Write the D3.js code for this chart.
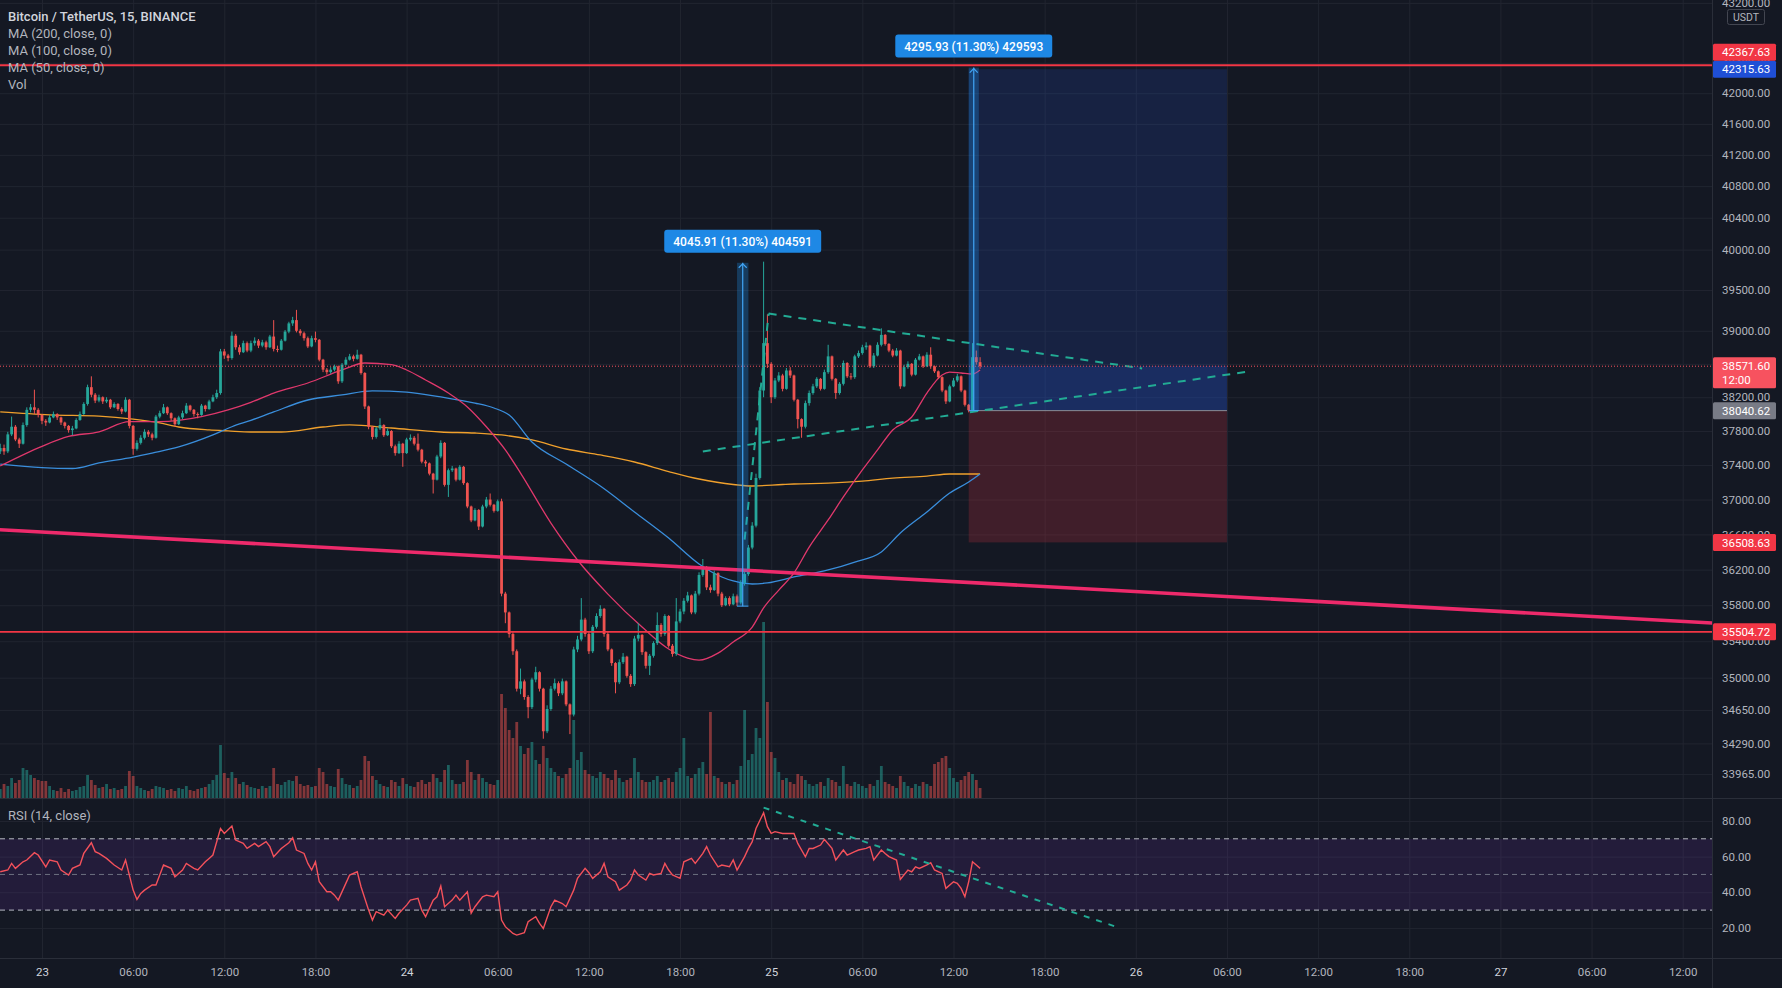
<!DOCTYPE html>
<html><head><meta charset="utf-8">
<script src="https://cdn.jsdelivr.net/npm/d3@7/dist/d3.min.js"></script>
<style>html,body{margin:0;padding:0;background:#141823;overflow:hidden}svg{display:block}</style>
</head><body><svg id="chart" width="1782" height="988"></svg>
<script>
// ---------------- DATA ----------------
const firstCandleTime = "2022-02-22T21:15:00Z";   // 15-minute candles
const firstOpen = 37560;
const closes = [
37600,37560,37760,37850,37700,37650,37870,38050,38080,38050,
37990,37920,37900,37960,38000,37960,37900,37860,37810,37830,
37930,38000,38120,38320,38230,38160,38200,38150,38170,38080,
38120,38060,38030,38170,37860,37590,37660,37720,37790,37760,
37720,37970,38010,38080,38010,37950,37880,37960,38010,38100,
38050,38000,37990,38100,38060,38150,38200,38250,38750,38700,
38670,38940,38800,38740,38850,38760,38850,38880,38820,38860,
38800,38930,38780,38770,38880,38990,39090,39130,39000,38970,
38910,38810,38910,38890,38650,38530,38500,38530,38570,38390,
38590,38650,38690,38660,38710,38490,38090,37850,37730,37830,
37870,37750,37800,37620,37540,37650,37540,37700,37720,37650,
37580,37440,37420,37300,37230,37500,37660,37170,37340,37360,
37230,37380,37190,36920,36760,36880,36690,36920,37000,36940,
36870,36980,35930,35720,35480,35290,34880,34960,34790,34680,
34980,35060,34880,34420,34660,34880,34940,34830,34960,34710,
34600,35310,35420,35640,35480,35290,35560,35680,35760,35480,
35310,35160,34950,35170,35230,35020,34930,35430,35470,35280,
35130,35240,35380,35580,35480,35680,35350,35260,35620,35730,
35850,35910,35720,35930,36140,36230,36000,35970,36160,35930,
35800,35880,35810,35900,35830,36050,36150,36450,36700,37250,
38280,38850,38600,38200,38400,38460,38300,38520,38460,38170,
37940,37850,38130,38250,38330,38420,38300,38500,38690,38420,
38250,38360,38610,38450,38440,38690,38730,38800,38820,38570,
38700,38830,38950,38840,38760,38700,38760,38330,38560,38600,
38470,38650,38690,38570,38710,38570,38510,38440,38280,38150,
38330,38400,38450,38280,38110,38045,38680,38620,38571.6];
const highs = [
37650,37640,37790,37970,37870,37720,37900,38080,38120,38290,
38070,38000,37940,37990,38030,38010,37970,37910,37870,37860,
37950,38030,38140,38350,38450,38250,38230,38210,38200,38180,
38140,38130,38080,38200,38180,37870,37690,37750,37820,37810,
37780,37990,38040,38120,38090,38020,37960,37980,38040,38130,
38110,38060,38020,38120,38110,38170,38230,38290,38780,38780,
38720,38990,38960,38830,38880,38870,38880,38920,38900,38890,
38880,38950,39130,38820,38900,39010,39110,39170,39255,39020,
38990,38930,38940,38990,38900,38660,38550,38560,38590,38580,
38610,38680,38720,38710,38770,38720,38500,38100,37860,37850,
37950,37880,37830,37810,37640,37680,37660,37720,37760,37740,
37770,37590,37460,37430,37310,37520,37690,37670,37360,37390,
37370,37400,37390,37200,36930,36900,36890,36940,37030,37070,
36950,37000,37010,35950,35730,35500,35310,35100,34980,34810,
35000,35120,35070,34890,34700,34910,34990,34960,34990,34970,
34720,35340,35460,35880,35660,35500,35580,35710,35800,35770,
35500,35320,35170,35200,35270,35240,35040,35460,35600,35480,
35290,35260,35400,35720,35600,35700,35690,35370,35880,35760,
35880,35950,35920,35960,36170,36320,36240,36030,36190,36170,
35950,35900,35900,35930,35920,36080,36200,36480,36740,37300,
38320,39850,39200,38620,38430,38500,38480,38550,38560,38470,
38180,37950,38160,38280,38360,38440,38430,38530,38830,38700,
38430,38380,38640,38620,38490,38710,38760,38830,38860,38830,
38730,38860,39030,38960,38850,38780,38790,38770,38590,38630,
38610,38670,38720,38700,38740,38800,38580,38520,38450,38290,
38350,38430,38480,38460,38290,38120,38850,38760,38680];
const lows = [
37530,37520,37540,37740,37680,37600,37640,37850,38020,38000,
37960,37880,37860,37890,37950,37930,37870,37830,37780,37750,
37820,37920,37990,38100,38200,38130,38140,38120,38130,38060,
38070,38040,38000,38020,37830,37520,37570,37640,37700,37730,
37690,37710,37950,38000,37990,37920,37850,37870,37940,38000,
38030,37970,37950,37980,38030,38050,38140,38180,38230,38660,
38630,38650,38770,38710,38730,38740,38740,38820,38790,38800,
38770,38790,38750,38740,38760,38870,38970,39060,38980,38940,
38880,38790,38800,38860,38630,38500,38470,38480,38510,38360,
38370,38580,38640,38630,38650,38470,38060,37820,37700,37710,
37810,37730,37740,37600,37510,37530,37380,37530,37680,37630,
37560,37420,37380,37280,37070,37220,37480,37150,37030,37320,
37210,37220,37170,36900,36740,36750,36650,36680,36900,36920,
36850,36860,35900,35600,35440,35250,34850,34820,34760,34560,
34660,34950,34850,34340,34400,34640,34860,34800,34810,34690,
34390,34580,35280,35400,35450,35260,35270,35540,35660,35450,
35290,35130,34830,34930,35150,35000,34900,34910,35400,35250,
35100,35030,35220,35360,35450,35460,35330,35230,35240,35600,
35700,35830,35700,35700,35910,36120,35970,35940,35960,35900,
35780,35790,35790,35800,35790,35810,36020,36130,36430,36680,
37230,38200,38550,38130,38180,38380,38270,38290,38430,38150,
37830,37720,37830,38100,38230,38310,38280,38290,38480,38400,
38180,38230,38340,38430,38410,38420,38670,38710,38770,38550,
38550,38690,38810,38820,38740,38680,38690,38300,38320,38540,
38450,38460,38640,38550,38560,38540,38490,38420,38260,38120,
38140,38320,38380,38260,38090,38020,38020,38590,38540];
const volumes = [
450,700,600,1000,750,900,1500,1400,1150,1000,
900,850,850,600,400,350,500,300,450,350,
400,550,600,1150,900,650,500,550,700,450,
500,400,450,600,1350,1100,600,500,400,350,
450,600,550,500,400,450,350,500,450,600,
400,350,450,500,550,700,900,1150,2650,1250,
1000,1300,1000,700,800,650,550,500,450,600,
500,600,1500,700,650,800,900,850,1100,700,
600,650,550,600,1500,1300,700,600,550,1450,
1000,700,650,500,600,900,2100,1850,1100,900,
700,600,550,900,800,600,1000,700,600,550,
800,900,700,800,1200,1000,800,1400,1650,900,
700,700,800,1900,1300,900,1200,1000,800,700,
650,900,5200,4500,3400,3000,3800,2600,2200,2500,
2800,1900,1700,2600,2000,1500,1300,1100,1000,1200,
1500,3900,1900,2300,1400,1200,1100,1000,1300,1200,
1000,900,1400,1000,800,900,1000,2000,1300,900,
800,800,900,1100,800,900,1000,800,1300,1500,
3000,1100,1000,1200,1500,1800,1200,4300,1100,1000,
800,700,800,700,900,1600,4400,1900,2200,3500,
3000,8800,4800,2300,2000,1300,900,1000,800,700,
1200,1100,900,700,600,700,800,600,1000,900,
800,600,1600,700,600,800,700,600,500,700,
600,900,1600,800,700,600,500,1100,800,600,
500,700,600,800,700,600,1700,1800,2000,2100,
1500,1000,800,900,1100,1300,1200,900,500];
// moving averages: [candle index, value]
const ma50 = [[0,37390],[11,37620],[18,37735],[26,37790],[34,37910],[42,37910],[53,37970],[60,38050],[66,38140],[72,38250],[81,38370],[90,38526],[96,38610],[103,38590],[107,38526],[112,38406],[118,38250],[123,38085],[128,37850],[133,37577],[137,37307],[145,36730],[152,36309],[160,35925],[169,35557],[176,35315],[181,35215],[184,35193],[189,35270],[193,35392],[198,35557],[201,35770],[205,35970],[209,36163],[213,36456],[218,36765],[222,37030],[227,37343],[231,37577],[235,37812],[240,37965],[244,38250],[248,38466],[250,38500],[253,38490],[256,38478],[258,38526]];
const ma100 = [[0,37412],[11,37370],[19,37360],[26,37425],[35,37494],[40,37541],[47,37612],[56,37753],[61,37850],[66,37925],[72,38025],[81,38167],[90,38227],[98,38275],[107,38262],[116,38203],[125,38131],[130,38072],[134,37989],[140,37670],[149,37412],[158,37156],[167,36857],[176,36559],[184,36264],[190,36117],[193,36072],[198,36038],[202,36050],[209,36117],[218,36196],[225,36286],[232,36400],[237,36616],[244,36857],[250,37075],[255,37203],[258,37296]];
const ma200 = [[0,38025],[13,37990],[26,37975],[35,37940],[42,37895],[47,37847],[55,37812],[60,37800],[66,37788],[74,37788],[85,37847],[92,37871],[103,37835],[116,37788],[125,37776],[132,37753],[140,37694],[149,37588],[158,37518],[167,37436],[176,37325],[184,37238],[193,37174],[198,37157],[206,37174],[209,37180],[218,37191],[227,37214],[235,37249],[244,37272],[250,37296],[258,37296]];
const rsiPoints = [[0,51.5],[2,52.5],[3,56.2],[4,53.4],[6,57.1],[7,58.1],[9,62.2],[10,60.9],[12,54.3],[13,58.1],[15,57.1],[16,52.5],[18,49.7],[19,53.4],[21,55.3],[22,61.8],[24,67.8],[25,62.8],[26,61.8],[28,59.0],[30,55.3],[32,52.5],[33,58.1],[35,41.2],[36,36.0],[37,39.4],[38,41.2],[40,44.1],[41,44.1],[42,49.7],[43,55.3],[45,53.4],[46,48.7],[48,52.5],[49,56.2],[51,53.4],[52,52.5],[54,57.1],[55,59.0],[56,60.9],[58,75.8],[59,73.0],[61,77.2],[62,69.3],[64,67.4],[65,64.6],[67,67.4],[68,65.6],[70,68.4],[71,65.6],[72,59.9],[74,64.6],[76,67.8],[77,70.6],[78,63.7],[80,61.8],[81,56.2],[82,52.5],[83,57.1],[84,45.9],[86,40.3],[87,40.3],[88,38.4],[89,35.6],[91,45.0],[92,49.7],[94,51.5],[95,43.1],[97,30.0],[98,24.4],[99,29.1],[101,27.2],[102,30.0],[104,25.3],[105,28.2],[107,32.8],[108,35.6],[110,36.6],[111,30.0],[112,26.3],[114,35.6],[115,37.5],[116,43.5],[117,31.9],[119,35.6],[120,38.4],[121,35.6],[123,40.3],[124,28.2],[125,31.9],[127,37.5],[128,38.4],[130,37.5],[131,40.3],[132,24.4],[133,20.7],[135,16.9],[136,16.0],[138,17.3],[139,23.5],[141,26.3],[142,22.6],[143,19.7],[145,31.9],[146,35.6],[148,33.7],[149,31.9],[151,41.2],[152,47.8],[154,53.4],[155,51.0],[156,47.8],[158,51.5],[159,56.2],[160,48.7],[162,45.9],[163,41.2],[165,44.1],[166,46.9],[167,52.5],[168,49.7],[170,46.9],[171,50.6],[172,49.7],[174,50.6],[175,56.2],[176,52.5],[177,49.7],[179,47.8],[180,57.1],[182,59.0],[183,56.2],[185,61.8],[186,65.6],[187,60.9],[189,54.3],[190,55.3],[192,54.3],[193,58.1],[194,52.5],[196,60.0],[197,64.6],[198,68.4],[199,75.8],[201,84.6],[202,76.8],[203,73.0],[204,74.0],[206,73.0],[207,73.0],[209,73.0],[210,67.4],[212,59.9],[213,64.6],[214,64.6],[216,66.5],[217,69.7],[219,64.6],[220,58.1],[222,63.7],[223,60.9],[225,62.8],[226,63.7],[228,64.6],[229,65.6],[230,58.1],[232,63.7],[233,61.8],[234,60.0],[236,58.1],[237,47.2],[239,52.5],[240,51.5],[241,54.3],[242,53.4],[244,55.3],[245,56.6],[246,52.5],[248,50.6],[249,42.2],[251,45.9],[252,45.0],[253,42.2],[254,37.5],[255,45.9],[256,57.1],[257,55.3],[258,53.4]];
// axis ticks
const priceTicks = [43200,42400,42000,41600,41200,40800,40400,40000,39500,39000,38600,38200,37800,37400,37000,36600,36200,35800,35400,35000,34650,34290,33965];
const rsiTicks = [20,40,60,80];
const rsiLevels = [70,50,30];
const timeTickRange = ["2022-02-23T00:00:00Z","2022-02-27T12:00:00Z"];
// drawings
const hLevels = [42367.63, 35504.72];
const supportTrend = [["2022-02-22T21:00:00Z",36656],["2022-02-27T14:00:00Z",35602]];
const triangleLines = [
  [["2022-02-24T22:15:00Z",36540],["2022-02-24T23:50:00Z",39210]],
  [["2022-02-24T23:50:00Z",39210],["2022-02-26T00:25:00Z",38545]],
  [["2022-02-24T19:30:00Z",37560],["2022-02-26T07:30:00Z",38510]]];
const rsiTrend = [["2022-02-24T23:30:00Z",87.5],["2022-02-25T23:00:00Z",19.8]];
const position = {start:"2022-02-25T13:00:00Z", end:"2022-02-26T06:00:00Z", entry:38040.62, target:42315.63, stop:36508.63};
const measures = [
  {t0:"2022-02-24T21:45:00Z", t1:"2022-02-24T22:30:00Z", p0:35790, p1:39836, label:"4045.91 (11.30%) 404591"},
  {t0:"2022-02-25T13:00:00Z", t1:"2022-02-25T13:40:00Z", p0:38040.62, p1:42336.55, label:"4295.93 (11.30%) 429593"}];
const lastPrice = 38571.60, countdown = "12:00";
const legendLines = ["Bitcoin / TetherUS, 15, BINANCE","MA (200, close, 0)","MA (100, close, 0)","MA (50, close, 0)","Vol"];

// ---------------- LAYOUT ----------------
const W = 1782, H = 988, PR = 1712, MB = 798, RT = 799, RB = 958;
const FONT = 'Roboto, "Noto Sans", "DejaVu Sans", sans-serif';
const BG = '#141823', GRID = '#212530', AXT = '#b2b5be';
const UP = '#26a69a', DN = '#ef5350';
const P = d3.isoParse;
const svg = d3.select('#chart').style('font-family', FONT);
svg.append('rect').attr('width', W).attr('height', H).attr('fill', BG);
const defs = svg.append('defs');
defs.append('clipPath').attr('id','cm').append('rect').attr('x',0).attr('y',0).attr('width',PR).attr('height',MB);
defs.append('clipPath').attr('id','cr').append('rect').attr('x',0).attr('y',RT).attr('width',PR).attr('height',RB-RT);

const x = d3.scaleUtc().domain([P("2022-02-23T00:00:00Z"), P("2022-02-27T00:00:00Z")]).range([42, 1500.4]);
const y = d3.scaleLog().domain([42000, 35000]).range([93.2, 677.7]);
const yR = d3.scaleLinear().domain([30, 70]).range([910.1, 838.8]);
const yV = d3.scaleLinear().domain([0, 10000]).range([MB, MB - 200]);
const t0 = P(firstCandleTime).getTime();
const tOf = i => new Date(t0 + i * 15 * 60000);
const timeTicks = d3.utcHour.every(6).range(P(timeTickRange[0]), new Date(P(timeTickRange[1]).getTime() + 1));

// ---------------- GRID ----------------
const grid = svg.append('g');
grid.append('g').attr('transform', `translate(0,${RB})`)
  .call(d3.axisBottom(x).tickValues(timeTicks).tickSize(-RB).tickFormat(''))
  .call(g => { g.select('.domain').remove(); g.selectAll('line').attr('stroke', GRID); });
grid.append('g').attr('clip-path','url(#cm)')
  .call(d3.axisLeft(y).tickValues(priceTicks).tickSize(-PR).tickFormat(''))
  .call(g => { g.select('.domain').remove(); g.selectAll('line').attr('stroke', GRID); });
grid.append('g')
  .call(d3.axisLeft(yR).tickValues(rsiTicks).tickSize(-PR).tickFormat(''))
  .call(g => { g.select('.domain').remove(); g.selectAll('line').attr('stroke', GRID); });

// ---------------- MAIN PANE ----------------
const main = svg.append('g').attr('clip-path','url(#cm)');
const candles = closes.map((c, i) => {
  const o = i ? closes[i-1] : firstOpen;
  return {t: tOf(i), o, c, h: Math.max(highs[i], o, c), l: Math.min(lows[i], o, c), v: volumes[i], up: c >= o};
});
// volume
main.append('g').selectAll('rect').data(candles).join('rect')
  .attr('x', d => x(d.t) - 1.4).attr('width', 2.8)
  .attr('y', d => yV(d.v)).attr('height', d => MB - yV(d.v))
  .attr('fill', d => d.up ? UP : DN).attr('fill-opacity', 0.5);

// position tool
const px0 = x(P(position.start)), px1 = x(P(position.end));
main.append('rect').attr('x', px0).attr('width', px1 - px0).attr('y', y(position.target)).attr('height', y(position.entry) - y(position.target)).attr('fill', 'rgba(41,98,255,0.14)');
main.append('rect').attr('x', px0).attr('width', px1 - px0).attr('y', y(lastPrice)).attr('height', y(position.entry) - y(lastPrice)).attr('fill', 'rgba(41,98,255,0.17)');
main.append('rect').attr('x', px0).attr('width', px1 - px0).attr('y', y(position.entry)).attr('height', y(position.stop) - y(position.entry)).attr('fill', 'rgba(242,54,69,0.2)');
main.append('line').attr('x1', px0).attr('x2', px1).attr('y1', y(position.entry)).attr('y2', y(position.entry)).attr('stroke', '#8a8d96').attr('stroke-width', 1);

// moving averages
const maLine = d3.line().x(d => x(tOf(d[0]))).y(d => y(d[1])).curve(d3.curveMonotoneX);
[[ma200,'#f0a02c'],[ma100,'#3a8edc'],[ma50,'#e0386c']].forEach(([d,c]) =>
  main.append('path').attr('d', maLine(d)).attr('fill','none').attr('stroke', c).attr('stroke-width', 1.3));

// candles
const cg = main.append('g');
cg.selectAll('line').data(candles).join('line')
  .attr('x1', d => x(d.t)).attr('x2', d => x(d.t)).attr('y1', d => y(d.h)).attr('y2', d => y(d.l))
  .attr('stroke', d => d.up ? UP : DN).attr('stroke-width', 1);
cg.selectAll('rect').data(candles).join('rect')
  .attr('x', d => x(d.t) - 1.4).attr('width', 2.8)
  .attr('y', d => y(Math.max(d.o, d.c))).attr('height', d => Math.max(1, Math.abs(y(d.o) - y(d.c))))
  .attr('fill', d => d.up ? UP : DN);

// support trend line
main.append('line').attr('x1', x(P(supportTrend[0][0]))).attr('y1', y(supportTrend[0][1]))
  .attr('x2', x(P(supportTrend[1][0]))).attr('y2', y(supportTrend[1][1]))
  .attr('stroke', '#ee2a6b').attr('stroke-width', 3.6);

// triangle dashed lines
triangleLines.forEach(s => main.append('line')
  .attr('x1', x(P(s[0][0]))).attr('y1', y(s[0][1])).attr('x2', x(P(s[1][0]))).attr('y2', y(s[1][1]))
  .attr('stroke', '#22ab94').attr('stroke-width', 2).attr('stroke-dasharray', '8,7'));

// current price dotted
main.append('line').attr('x1', 0).attr('x2', PR).attr('y1', y(lastPrice)).attr('y2', y(lastPrice))
  .attr('stroke', '#f7525f').attr('stroke-width', 1).attr('stroke-dasharray', '1,2');

// measure tools
measures.forEach(m => {
  const a = x(P(m.t0)), b = x(P(m.t1)), cx = (a + b) / 2, top = y(m.p1), bot = y(m.p0);
  main.append('rect').attr('x', a).attr('width', b - a).attr('y', top).attr('height', bot - top).attr('fill', 'rgba(33,150,243,0.28)');
  main.append('line').attr('x1', cx).attr('x2', cx).attr('y1', top).attr('y2', bot).attr('stroke', '#42a5f5').attr('stroke-width', 1.2);
  main.append('line').attr('x1', a).attr('x2', b).attr('y1', bot).attr('y2', bot).attr('stroke', '#42a5f5').attr('stroke-width', 1);
  main.append('path').attr('d', `M${cx-4},${top+5}L${cx},${top+1}L${cx+4},${top+5}`).attr('fill','none').attr('stroke', '#42a5f5').attr('stroke-width', 1.2);
  const lg = main.append('g');
  const tx = lg.append('text').attr('x', cx).attr('y', top - 17).attr('text-anchor','middle').attr('fill','#fff')
    .attr('font-size', 12).attr('font-weight', 500).text(m.label);
  const tw = tx.node().getComputedTextLength();
  lg.insert('rect','text').attr('x', cx - tw/2 - 9).attr('width', tw + 18).attr('y', top - 33).attr('height', 23).attr('rx', 3).attr('fill', '#1e88e5');
});

// horizontal levels
hLevels.forEach(p => main.append('line').attr('x1', 0).attr('x2', PR).attr('y1', y(p)).attr('y2', y(p)).attr('stroke', '#f23645').attr('stroke-width', 1.8));

// ---------------- RSI PANE ----------------
const rsi = svg.append('g').attr('clip-path','url(#cr)');
rsi.append('rect').attr('x', 0).attr('width', PR).attr('y', yR(70)).attr('height', yR(30) - yR(70)).attr('fill', 'rgba(130,60,200,0.14)');
rsiLevels.forEach(v => rsi.append('line').attr('x1', 0).attr('x2', PR).attr('y1', yR(v)).attr('y2', yR(v))
  .attr('stroke', v === 50 ? '#6d7080' : '#b8bbc4').attr('stroke-width', 1).attr('stroke-dasharray', '5,4'));
rsi.append('path').attr('d', d3.line().x(d => x(tOf(d[0]))).y(d => yR(d[1]))(rsiPoints))
  .attr('fill','none').attr('stroke', '#f4515b').attr('stroke-width', 1.4);
rsi.append('line').attr('x1', x(P(rsiTrend[0][0]))).attr('y1', yR(rsiTrend[0][1])).attr('x2', x(P(rsiTrend[1][0]))).attr('y2', yR(rsiTrend[1][1]))
  .attr('stroke', '#22ab94').attr('stroke-width', 2).attr('stroke-dasharray', '6,7');

// ---------------- SEPARATORS ----------------
svg.append('line').attr('x1', 0).attr('x2', W).attr('y1', MB + 0.5).attr('y2', MB + 0.5).attr('stroke', '#2a2e39');
svg.append('line').attr('x1', 0).attr('x2', W).attr('y1', RB + 0.5).attr('y2', RB + 0.5).attr('stroke', '#2a2e39');
svg.append('line').attr('x1', PR + 0.5).attr('x2', PR + 0.5).attr('y1', 0).attr('y2', H).attr('stroke', '#2a2e39');

// ---------------- AXES ----------------
const fmtTime = d => d.getUTCHours() === 0 ? d3.utcFormat('%-d')(d) : d3.utcFormat('%H:%M')(d);
svg.append('g').attr('transform', `translate(0,${RB})`)
  .call(d3.axisBottom(x).tickValues(timeTicks).tickSize(0).tickPadding(10).tickFormat(fmtTime))
  .call(g => { g.select('.domain').remove();
    g.selectAll('text').attr('fill', d => d.getUTCHours() === 0 ? '#d1d4dc' : AXT).attr('font-size', 11.5).attr('font-family', FONT); });
svg.append('g').attr('transform', `translate(${PR},0)`)
  .call(d3.axisRight(y).tickValues(priceTicks).tickSize(0).tickPadding(10).tickFormat(d3.format('.2f')))
  .call(g => { g.select('.domain').remove(); g.selectAll('text').attr('fill', AXT).attr('font-size', 11.5).attr('font-family', FONT); });
svg.append('g').attr('transform', `translate(${PR},0)`)
  .call(d3.axisRight(yR).tickValues(rsiTicks).tickSize(0).tickPadding(10).tickFormat(d3.format('.2f')))
  .call(g => { g.select('.domain').remove(); g.selectAll('text').attr('fill', AXT).attr('font-size', 11.5).attr('font-family', FONT); });

// USDT box
svg.append('rect').attr('x', 1727.5).attr('y', 9.5).attr('width', 37).attr('height', 15).attr('rx', 2).attr('fill', BG).attr('stroke', '#434651');
svg.append('text').attr('x', 1746).attr('y', 20.5).attr('text-anchor','middle').attr('fill', AXT).attr('font-size', 10.5).text('USDT');

// price labels
const LH = 17;
const priceLabels = [
  {p: position.target, yy: y(position.target), bg: '#1f4fd6'},
  {p: hLevels[0], yy: y(position.target) - LH, bg: '#f23645'},
  {p: position.entry, yy: y(position.entry), bg: '#787b86'},
  {p: position.stop, yy: y(position.stop), bg: '#f23645'},
  {p: hLevels[1], yy: y(hLevels[1]), bg: '#f23645'}];
priceLabels.forEach(l => {
  svg.append('rect').attr('x', PR + 1).attr('y', l.yy - LH/2).attr('width', 63).attr('height', LH).attr('rx', 1.5).attr('fill', l.bg);
  svg.append('text').attr('x', PR + 10).attr('y', l.yy + 4.2).attr('fill', '#fff').attr('font-size', 11.5).text(d3.format('.2f')(l.p));
});
const ly = y(lastPrice);
svg.append('rect').attr('x', PR + 1).attr('y', ly - 9).attr('width', 63).attr('height', 31).attr('rx', 1.5).attr('fill', '#f7525f');
svg.append('text').attr('x', PR + 10).attr('y', ly + 4.2).attr('fill', '#fff').attr('font-size', 11.5).text(d3.format('.2f')(lastPrice));
svg.append('text').attr('x', PR + 10).attr('y', ly + 18).attr('fill', '#fff').attr('font-size', 11.5).text(countdown);

// legend
legendLines.forEach((t, i) => svg.append('text').attr('x', 8).attr('y', 20.5 + i * 17)
  .attr('fill', i === 0 ? '#d1d4dc' : '#b2b5be').attr('font-size', 13).attr('font-weight', i === 0 ? 500 : 400).text(t));
svg.append('text').attr('x', 8).attr('y', 819.5).attr('fill', '#b2b5be').attr('font-size', 13).text('RSI (14, close)');
</script></body></html>
